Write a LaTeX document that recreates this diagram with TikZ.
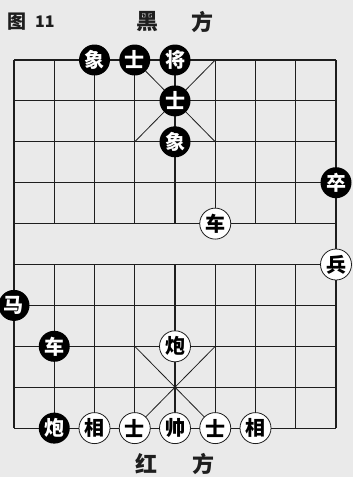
\documentclass[tikz,border=0pt]{standalone}
\usepackage{fontspec}
\newfontfamily\cjk{Noto Sans CJK SC}
\definecolor{bgc}{RGB}{234,234,234}
\definecolor{ink}{RGB}{30,30,30}
\tikzset{
  grid/.style={draw=ink,line width=1.1},
  diag/.style={draw=ink,line width=0.8},
  bpiece/.style={circle,fill=black,minimum size=31,inner sep=0,text=white,font=\cjk\bfseries\fontsize{20}{20}\selectfont},
  rpiece/.style={circle,fill=white,draw=ink,line width=0.8,minimum size=31,inner sep=0,text=black,font=\cjk\bfseries\fontsize{20}{20}\selectfont,
    append after command={\pgfextra{\draw[ink,line width=0.6] (\tikzlastnode.center) circle (13);}}},
  label/.style={font=\cjk\bfseries\fontsize{22}{22}\selectfont,text=ink,inner sep=0}
}
\begin{document}
\begin{tikzpicture}[x=1pt,y=-1pt]
\useasboundingbox (0,0) rectangle (353,477);
\fill[bgc] (0,0) rectangle (353,477);
\foreach \i in {1,...,9}{
  \foreach \j in {1,...,10}{
    \coordinate (p\i-\j) at ({14+40.25*(\i-1)},{60+40.9*(\j-1)});
  }
}
\foreach \j in {1,...,10}{\draw[grid] (p1-\j) -- (p9-\j);}
\draw[grid] (p1-1) -- (p1-10);
\draw[grid] (p9-1) -- (p9-10);
\foreach \i in {2,...,8}{
  \draw[grid] (p\i-1) -- (p\i-5);
  \draw[grid] (p\i-6) -- (p\i-10);
}
\draw[diag] (p4-1) -- (p6-3);
\draw[diag] (p6-1) -- (p4-3);
\draw[diag] (p4-8) -- (p6-10);
\draw[diag] (p6-8) -- (p4-10);
% black pieces
\node[bpiece] (bx1) at (p3-1) {象};
\node[bpiece] (bs1) at (p4-1) {士};
\node[bpiece] (bj) at (p5-1) {将};
\node[bpiece] (bs2) at (p5-2) {士};
\node[bpiece] (bx2) at (p5-3) {象};
\node[bpiece] (bz) at (p9-4) {卒};
\node[bpiece] (bm) at (p1-7) {马};
\node[bpiece] (bc) at (p2-8) {车};
\node[bpiece] (bp) at (p2-10) {炮};
% red pieces
\node[rpiece] (rc) at (p6-5) {车};
\node[rpiece] (rb) at (p9-6) {兵};
\node[rpiece] (rp) at (p5-8) {炮};
\node[rpiece] (rx1) at (p3-10) {相};
\node[rpiece] (rs1) at (p4-10) {士};
\node[rpiece] (rs) at (p5-10) {帅};
\node[rpiece] (rs2) at (p6-10) {士};
\node[rpiece] (rx2) at (p7-10) {相};
% labels
\node[label,font=\cjk\bfseries\fontsize{19}{19}\selectfont] (fig) at (17,22) {图};
\node[label,font=\cjk\bfseries\fontsize{16}{16}\selectfont,anchor=west] (fignum) at (35,22) {11};
\node[label] (hei) at (147,22) {黑};
\node[label] (hf) at (202,22) {方};
\node[label] (hong) at (146,464) {红};
\node[label] (rf) at (203,464) {方};
\end{tikzpicture}
\end{document}
